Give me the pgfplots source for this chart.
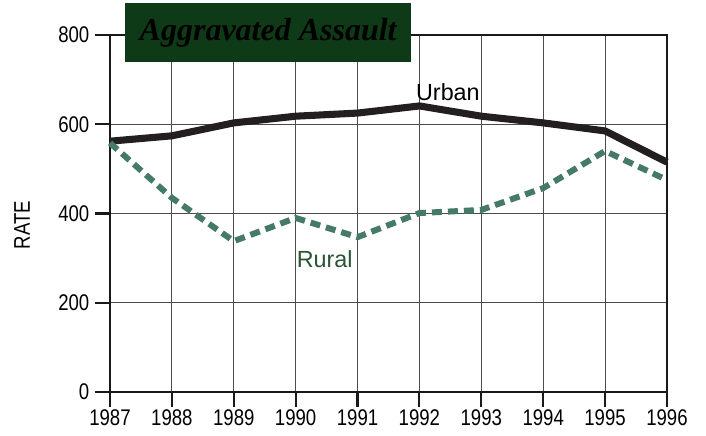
\documentclass[border=0pt]{standalone}
\usepackage{fontspec}
\setmainfont{Liberation Sans}
\newfontfamily\condfont[FakeStretch=0.82]{Liberation Sans}
\newfontfamily\titlefont{Liberation Serif}
\usepackage{pgfplots}
\pgfplotsset{compat=1.18}
\definecolor{boxgreen}{HTML}{0F3A17}
\definecolor{ruralline}{HTML}{467A68}
\definecolor{rurallabel}{HTML}{2A5535}
\definecolor{urbanline}{HTML}{231F20}
\begin{document}
\begin{tikzpicture}
\begin{axis}[
    scale only axis,
    width=417.75pt, height=267.75pt,
    xmin=1987, xmax=1996,
    ymin=0, ymax=800,
    xtick={1987,...,1996},
    ytick={0,200,400,600,800},
    xticklabel style={/pgf/number format/1000 sep={}, yshift=1pt},
    /pgf/number format/assume math mode=true,
    tick label style={font=\condfont\fontsize{17}{19}\selectfont},
    yticklabel style={xshift=-1pt},
    ylabel={RATE},
    ylabel style={font=\condfont\fontsize{17}{19}\selectfont,
        at={(rel axis cs:-0.158,0.468)}, anchor=center},
    xmajorgrids=true, ymajorgrids=true,
    grid style={black!70, line width=0.6pt},
    axis line style={black!90, line width=1.8pt},
    tick align=outside,
    xtick pos=bottom, ytick pos=left,
    major tick length=11pt,
    tick style={black!90, line width=1.6pt},
    clip=false,
]
\addplot[urbanline, line width=5.3pt, line join=miter] coordinates {
    (1987,562)(1988,574)(1989,603)(1990,618)(1991,625)(1992,641)(1993,618)(1994,603)(1995,585)(1996,515)
};
\addplot[ruralline, line width=4.5pt, dash pattern=on 7.5pt off 4.5pt] coordinates {
    (1987,558)(1988,435)(1989,338)(1990,390)(1991,347)(1992,401)(1993,408)(1994,457)(1995,540)(1996,475)
};
\node[font=\fontsize{17.5}{20}\selectfont] at (axis cs:1992.46,671) {Urban};
\node[font=\fontsize{17.5}{20}\selectfont, text=rurallabel] at (axis cs:1990.47,297) {Rural};
\node[fill=boxgreen, minimum width=214.5pt, minimum height=44pt, inner sep=0pt,
      font=\titlefont\fontsize{24}{28}\selectfont\bfseries\itshape]
    at (rel axis cs:0.284,1.007) {Aggravated Assault};
% fix the page to the reference's margins
\path (rel axis cs:-0.1975,-0.123) rectangle (rel axis cs:1.070,1.098);
\end{axis}
\end{tikzpicture}
\end{document}
